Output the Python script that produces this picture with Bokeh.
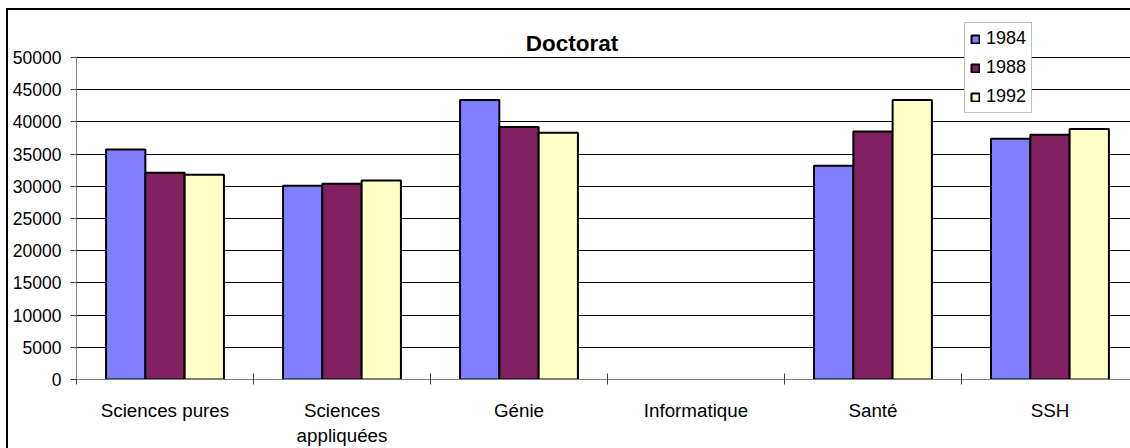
from bokeh.plotting import figure
from bokeh.models import ColumnDataSource, FixedTicker, Legend, LegendItem, Label
from bokeh.embed import file_html
from bokeh.resources import INLINE
import numpy as np

# --- data -------------------------------------------------------------
categories = ["Sciences pures", "Sciences\nappliquées", "Génie",
              "Informatique", "Santé", "SSH"]
years = ["1984", "1988", "1992"]
values_1984 = [35700, 30100, 43400, np.nan, 33200, 37400]
values_1988 = [32100, 30400, 39200, np.nan, 38500, 38000]
values_1992 = [31800, 30900, 38300, np.nan, 43400, 38900]
y_ticks = [0, 5000, 10000, 15000, 20000, 25000, 30000, 35000, 40000, 45000, 50000]

colors = ["#8080FF", "#802060", "#FFFFC8"]
series = [values_1984, values_1988, values_1992]

FONT = "Liberation Sans"

n = len(categories)
centers = np.arange(n) + 0.5
bar_w = 0.222
offsets = [-bar_w, 0.0, bar_w]

# value axis stops at 50000; headroom above holds the title and legend
y_max, y_top = 50000, 57300

p = figure(frame_width=1054, frame_height=369, output_backend="svg",
           toolbar_location=None,
           x_range=(0, 5.955), y_range=(0, y_top),
           min_border_left=68, min_border_right=0,
           min_border_top=0, min_border_bottom=60)
p.outline_line_color = None
p.background_fill_color = "white"
p.border_fill_color = "white"
# chart area border (left and top edges)
p.styles = {"margin-left": "6px", "margin-top": "8px",
            "border-left": "2px solid black", "border-top": "2px solid black"}

# grid
p.xgrid.grid_line_color = None
p.ygrid.grid_line_color = "black"
p.ygrid.grid_line_width = 1
p.ygrid.ticker = FixedTicker(ticks=y_ticks)

# y axis
p.yaxis.ticker = FixedTicker(ticks=y_ticks)
p.yaxis.bounds = (0, y_max)
p.yaxis.axis_line_color = "#808080"
p.yaxis.major_tick_in = 0
p.yaxis.major_tick_out = 6
p.yaxis.major_tick_line_color = "#404040"
p.yaxis.minor_tick_line_color = None
p.yaxis.major_label_text_font = FONT
p.yaxis.major_label_text_font_size = "17.5px"
p.yaxis.major_label_text_color = "black"
p.yaxis.major_label_standoff = 9
p.yaxis.formatter.use_scientific = False

# x axis: category names at centres, small ticks at group boundaries
p.xaxis.ticker = FixedTicker(ticks=list(centers), minor_ticks=list(range(n + 1)))
p.xaxis.major_label_overrides = {float(c): lab for c, lab in zip(centers, categories)}
p.xaxis.axis_line_color = "#808080"
p.xaxis.major_tick_line_color = None
p.xaxis.minor_tick_in = 6
p.xaxis.minor_tick_out = 5
p.xaxis.minor_tick_line_color = "#404040"
p.xaxis.major_label_text_font = FONT
p.xaxis.major_label_text_font_size = "18.8px"
p.xaxis.major_label_text_color = "black"
p.xaxis.major_label_standoff = 14

# bars
renderers = []
for vals, col, off in zip(series, colors, offsets):
    src = ColumnDataSource(dict(x=centers + off, top=vals))
    r = p.vbar(x="x", top="top", width=bar_w, bottom=0, source=src,
               fill_color=col, line_color="black", line_width=2)
    renderers.append(r)

# title
p.add_layout(Label(x=2.80, y=52200, text="Doctorat", text_font=FONT,
                   text_font_size="22.5px", text_font_style="bold",
                   text_color="black", text_align="center",
                   text_baseline="middle"))

legend = Legend(items=[LegendItem(label=y, renderers=[r]) for y, r in zip(years, renderers)],
                location=(888, 266))
legend.label_text_font = FONT
legend.label_text_font_size = "18px"
legend.label_text_color = "black"
legend.glyph_width = 10
legend.glyph_height = 10
legend.label_height = 20
legend.label_standoff = 6
legend.spacing = 8
legend.padding = 5
legend.margin = 0
legend.border_line_color = "#808080"
legend.border_line_width = 1
legend.background_fill_color = "white"
legend.background_fill_alpha = 1
p.add_layout(legend)

open("out.html", "w").write(file_html(p, INLINE))
